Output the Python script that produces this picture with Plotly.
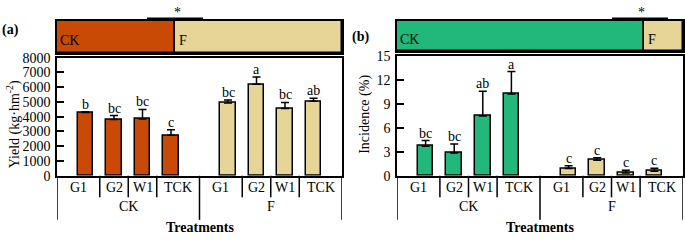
import plotly.graph_objects as go

# ---------------- data ----------------
groups = ["CK", "F"]
treatments = ["G1", "G2", "W1", "TCK"]

yield_ck = [4280, 3820, 3850, 2750]
yield_ck_err = [50, 260, 640, 360]
yield_f = [4930, 6200, 4550, 5040]
yield_f_err = [210, 490, 420, 210]
yield_letters_ck = ["b", "bc", "bc", "c"]
yield_letters_f = ["bc", "a", "bc", "ab"]

inc_ck = [3.70, 2.84, 7.47, 10.23]
inc_ck_err = [0.70, 1.13, 3.10, 2.80]
inc_f = [0.90, 1.95, 0.35, 0.58]
inc_f_err = [0.35, 0.30, 0.35, 0.35]
inc_letters_ck = ["bc", "bc", "ab", "a"]
inc_letters_f = ["c", "c", "c", "c"]

yield_ticks = [0, 1000, 2000, 3000, 4000, 5000, 6000, 7000, 8000]
inc_ticks = [0, 3, 6, 9, 12, 15]

# ---------------- style ----------------
W, H = 685, 241
C_CK_A = "#C94A05"
C_F = "#E6D596"
C_CK_B = "#22B87B"
FONT = "Liberation Serif"
LW = 1.5


def px(x):
    return x / W


def py(y):
    return 1 - y / H


def txt(**kw):
    d = dict(showarrow=False, xanchor="center", yanchor="middle",
             font=dict(family=FONT, size=14, color="black"))
    d.update(kw)
    return d


pos = [0, 1, 2, 3, 5, 6, 7, 8]

fig = go.Figure()

panels = [
    dict(main=("x", "y"), top=("x2", "y2"), ck=yield_ck, ckerr=yield_ck_err, f=yield_f, ferr=yield_f_err,
         lck=yield_letters_ck, lf=yield_letters_f, cck=C_CK_A, xl=57, xr=342, top_y=54, bar_y=(15, 49),
         yr=[0, 8000], ticks=yield_ticks, title="Yield (kg·hm<sup>-2</sup>)", title_xy=(13, 125),
         tag="(a)", tag_xy=(10, 25), star_line=(147, 203), star_x=177),
    dict(main=("x3", "y3"), top=("x4", "y4"), ck=inc_ck, ckerr=inc_ck_err, f=inc_f, ferr=inc_f_err,
         lck=inc_letters_ck, lf=inc_letters_f, cck=C_CK_B, xl=397, xr=683, top_y=52, bar_y=(15, 47),
         yr=[0, 15], ticks=inc_ticks, title="Incidence (%)", title_xy=(365, 115),
         tag="(b)", tag_xy=(361, 32), star_line=(612, 668), star_x=641),
]

shapes = []
annotations = []
layout = {}
bottom_y = 180

for i, p in enumerate(panels):
    xa, ya = p["main"]
    xt, yt = p["top"]
    vals = p["ck"] + p["f"]
    errs = p["ckerr"] + p["ferr"]
    cols = [p["cck"]] * 4 + [C_F] * 4
    fig.add_trace(go.Bar(
        x=pos, y=vals, width=0.54, xaxis=xa, yaxis=ya,
        marker=dict(color=cols, line=dict(color="black", width=LW)),
        error_y=dict(type="data", array=errs, arrayminus=[0] * 8, symmetric=False,
                     color="black", thickness=LW, width=4),
        showlegend=False, hoverinfo="skip"))
    # significance letters
    for xv, v, e, t in zip(pos, vals, errs, p["lck"] + p["lf"]):
        annotations.append(txt(x=xv, y=v + e, xref=xa, yref=ya, text=t, yanchor="bottom", yshift=-2))
    # top proportion bar (share of summed means)
    sck, sf = sum(p["ck"]), sum(p["f"])
    fig.add_trace(go.Bar(x=[sck], y=[0], base=[0], orientation="h", width=1, xaxis=xt, yaxis=yt,
                         marker=dict(color=p["cck"], line=dict(color="black", width=LW)),
                         showlegend=False, hoverinfo="skip"))
    fig.add_trace(go.Bar(x=[sf], y=[0], base=[sck], orientation="h", width=1, xaxis=xt, yaxis=yt,
                         marker=dict(color=C_F, line=dict(color="black", width=LW)),
                         showlegend=False, hoverinfo="skip"))
    annotations.append(txt(x=0, y=0, xref=xt, yref=yt, text="CK", xanchor="left", xshift=1, yshift=-3))
    annotations.append(txt(x=sck, y=0, xref=xt, yref=yt, text="F", xanchor="left", xshift=2, yshift=-3))

    dom_x = [px(p["xl"]), px(p["xr"])]
    n = "" if i == 0 else str(2 * i + 1)
    nt = str(2 * i + 2)
    layout["xaxis" + n] = dict(domain=dom_x, range=[-1, 9], showticklabels=False, ticks="",
                               showline=True, linecolor="black", linewidth=LW, mirror=True,
                               showgrid=False, zeroline=False, anchor=ya, fixedrange=True)
    layout["yaxis" + n] = dict(domain=[py(bottom_y), py(p["top_y"])], range=p["yr"], tickvals=p["ticks"],
                               ticks="inside", ticklen=7, tickwidth=LW, tickcolor="black",
                               showline=True, linecolor="black", linewidth=LW, mirror=True,
                               showgrid=False, zeroline=False, anchor=xa,
                               tickfont=dict(family=FONT, size=14, color="black"), ticklabelstandoff=2)
    layout["xaxis" + nt] = dict(domain=dom_x, range=[0, sck + sf], visible=True, showticklabels=False,
                                ticks="", showgrid=False, zeroline=False, showline=True,
                                linecolor="black", linewidth=LW, mirror=True, anchor=yt)
    layout["yaxis" + nt] = dict(domain=[py(p["bar_y"][1]), py(p["bar_y"][0])], range=[-0.5, 0.5],
                                showticklabels=False, ticks="", showgrid=False, zeroline=False,
                                showline=True, linecolor="black", linewidth=LW, mirror=True, anchor=xt)

    # category separators and labels
    seps_short = [0.5, 1.5, 2.5, 5.5, 6.5, 7.5]
    seps_long = [-1, 4, 9]
    for s in seps_short:
        shapes.append(dict(type="line", xref=xa, yref="paper", x0=s, x1=s, y0=py(bottom_y), y1=py(203),
                           line=dict(color="black", width=LW)))
    for s in seps_long:
        shapes.append(dict(type="line", xref=xa, yref="paper", x0=s, x1=s, y0=py(bottom_y), y1=py(227),
                           line=dict(color="black", width=LW)))
    lab_x = [-0.25, 1, 2, 3.25, 4.75, 6, 7, 8.25]
    for lx, t in zip(lab_x, treatments * 2):
        annotations.append(txt(x=lx, y=py(192), xref=xa, yref="paper", text=t))
    for gx, g in zip([1.5, 6.5], groups):
        annotations.append(txt(x=gx, y=py(213), xref=xa, yref="paper", text=g))
    annotations.append(txt(x=4, y=py(235), xref=xa, yref="paper", text="<b>Treatments</b>"))
    # y title
    annotations.append(txt(x=px(p["title_xy"][0]), y=py(p["title_xy"][1]), xref="paper", yref="paper",
                           text=p["title"], textangle=-90))
    # panel tag
    annotations.append(txt(x=px(p["tag_xy"][0]), y=py(p["tag_xy"][1]), xref="paper", yref="paper",
                           text="<b>" + p["tag"] + "</b>"))
    # significance star
    shapes.append(dict(type="line", xref="paper", yref="paper", x0=px(p["star_line"][0]),
                       x1=px(p["star_line"][1]), y0=py(12), y1=py(12),
                       line=dict(color="black", width=LW)))
    annotations.append(txt(x=px(p["star_x"]), y=py(6), xref="paper", yref="paper", text="*"))

fig.update_layout(
    width=W, height=H, margin=dict(l=0, r=0, t=0, b=0),
    paper_bgcolor="white", plot_bgcolor="white", barmode="overlay",
    shapes=shapes, annotations=annotations, bargap=0,
    **layout)

fig.write_html("out.html", config={"displayModeBar": False},
               post_script="document.body.style.margin='0';")
